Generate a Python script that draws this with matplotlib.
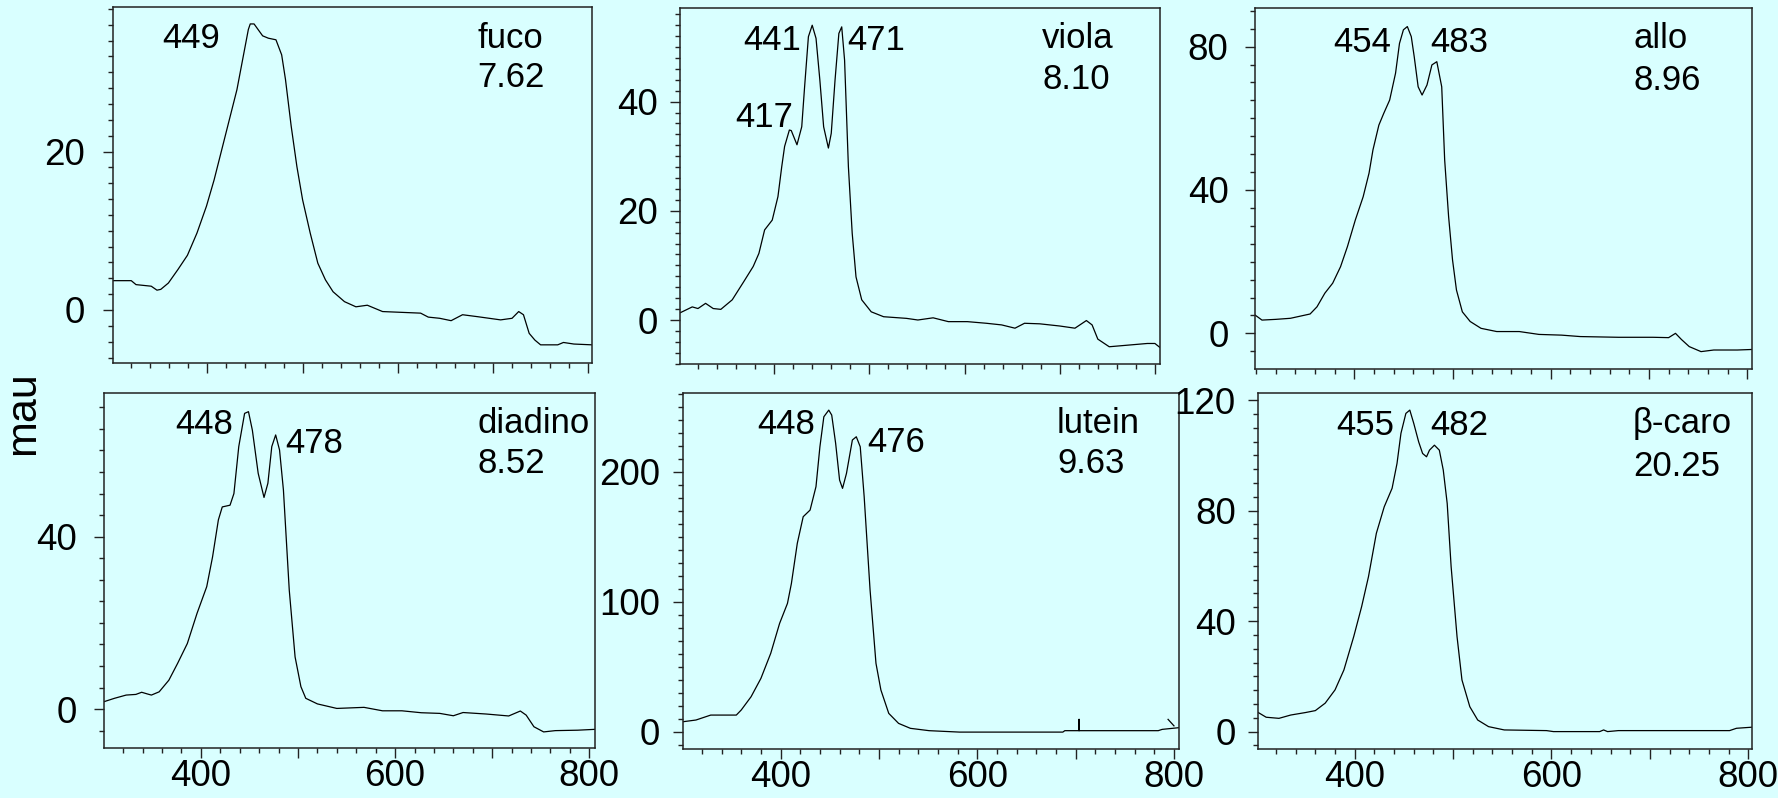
import matplotlib
matplotlib.use('Agg')
import matplotlib.pyplot as plt
from matplotlib.ticker import MultipleLocator, FixedLocator, FixedFormatter, NullFormatter

plt.rcParams['font.family'] = ['Liberation Sans', 'DejaVu Sans']

BG = '#d9ffff'

# ---------------- data (wavelength nm, absorbance mau) ----------------
wl_fuco = [300, 320, 325, 341, 347, 351, 359, 369, 379, 389, 399, 407, 415, 423, 431, 437, 443, 445, 449,
           458, 464, 472, 478, 482, 488, 494, 500, 508, 516, 524, 532, 544, 556, 568, 584, 604, 624, 632,
           644, 656, 668, 684, 696, 708, 720, 727, 732, 738, 744, 750, 768, 774, 785, 804]
ab_fuco = [3.7, 3.7, 3.2, 3.0, 2.5, 2.6, 3.4, 5.1, 6.9, 9.7, 13.1, 16.4, 20.2, 24.0, 27.8, 31.6, 35.4, 36.1, 36.1,
           34.6, 34.3, 34.1, 32.2, 29.1, 23.2, 18.1, 13.9, 9.7, 5.9, 3.8, 2.3, 1.05, 0.4, 0.6, -0.2, -0.3, -0.4, -0.9,
           -1.05, -1.35, -0.6, -0.85, -1.05, -1.25, -1.05, -0.2, -0.6, -2.95, -3.8, -4.4, -4.4, -4.1, -4.3, -4.4]

wl_viola = [301, 314, 320, 328, 336, 344, 356, 368, 378, 384, 390, 398, 404, 408, 411, 416, 418, 424, 429, 432,
            436, 440, 444, 448, 452, 457, 460, 464, 468, 471, 474, 478, 482, 486, 492, 502, 515, 539, 551, 567,
            583, 603, 623, 639, 653, 663, 679, 700, 716, 728, 734, 740, 752, 772, 792, 800, 805]
ab_viola = [1.3, 2.4, 2.1, 3.05, 2.1, 1.95, 3.7, 7.0, 9.8, 12.2, 16.5, 18.3, 22.6, 28.1, 31.8, 34.8, 34.7, 32.1, 35.4, 42.7,
            51.9, 54.0, 51.6, 44.0, 35.4, 31.5, 34.2, 44.0, 52.5, 53.7, 47.6, 28.1, 15.9, 7.9, 3.7, 1.5, 0.6, 0.3, 0.0, 0.4,
            -0.3, -0.3, -0.6, -0.9, -1.5, -0.6, -0.7, -1.1, -1.5, -0.1, -0.9, -3.5, -4.9, -4.6, -4.3, -4.3, -5.0]

wl_allo = [299, 306, 320, 335, 355, 362, 370, 378, 386, 393, 401, 409, 415, 419, 425, 430, 436, 442, 446, 450,
           454, 458, 461, 465, 469, 474, 479, 484, 489, 492, 496, 500, 504, 510, 518, 529, 545, 568, 588, 611,
           630, 669, 704, 720, 727, 733, 741, 753, 766, 790, 805]
ab_allo = [5.1, 3.7, 3.9, 4.2, 5.4, 7.4, 11.2, 14.0, 18.6, 24.2, 31.6, 38.1, 44.7, 51.2, 58.1, 61.4, 65.1, 72.6, 80.9, 84.7,
           85.6, 82.8, 77.2, 68.8, 66.5, 69.3, 74.9, 75.8, 68.8, 48.4, 32.6, 20.5, 12.1, 6.0, 3.3, 1.4, 0.5, 0.5, -0.3, -0.5,
           -0.9, -1.1, -1.1, -1.2, 0.0, -1.7, -3.7, -5.1, -4.65, -4.65, -4.5]

wl_diadino = [300, 311, 323, 333, 339, 345, 349, 357, 367, 376, 386, 396, 406, 412, 418, 422, 430, 434, 439, 445,
              449, 453, 459, 465, 469, 473, 477, 481, 485, 491, 497, 503, 508, 520, 540, 568, 587, 607, 627, 646,
              660, 670, 694, 717, 729, 735, 743, 753, 765, 788, 806]
ab_diadino = [1.7, 2.5, 3.25, 3.4, 3.9, 3.5, 3.25, 4.0, 6.7, 10.6, 15.2, 22.2, 28.4, 35.3, 43.9, 46.9, 47.3, 50.0, 60.9, 68.6,
              69.0, 64.7, 54.7, 49.1, 52.4, 60.9, 63.6, 60.1, 50.8, 27.6, 12.1, 5.2, 2.5, 1.2, 0.15, 0.4, -0.4, -0.4, -0.85, -1.0,
              -1.55, -0.8, -1.15, -1.6, -0.45, -1.4, -4.1, -5.3, -5.0, -4.9, -4.7]

wl_lutein = [301, 314, 329, 355, 360, 370, 380, 390, 399, 407, 411, 417, 423, 430, 436, 440, 444, 449, 452, 456,
             460, 463, 467, 473, 477, 481, 485, 491, 497, 502, 510, 520, 532, 551, 582, 625, 687, 689, 703.5, 703.5,
             703.5, 722, 784, 788, 805]
ab_lutein = [7.7, 9.0, 12.8, 12.8, 16.7, 26.9, 41.0, 60.3, 83.3, 98.7, 114.0, 144.9, 165.4, 170.5, 188.5, 219.2, 242.3, 247.4, 243.6, 221.8,
             193.6, 187.2, 198.7, 224.4, 226.9, 219.2, 180.8, 109.0, 52.6, 32.1, 14.1, 6.4, 2.6, 0.8, -0.3, -0.3, -0.3, 0.8, 0.8, 9.5,
             0.8, 0.8, 0.8, 1.8, 3.1]
wl_lutein_mark = [794, 800]
ab_lutein_mark = [9.5, 4.5]

wl_bcaro = [302, 310, 323, 335, 350, 360, 370, 380, 389, 399, 407, 414, 422, 430, 438, 443, 447, 452, 456, 460,
            465, 469, 473, 476, 481, 486, 490, 494, 498, 504, 509, 517, 525, 536, 552, 595, 602, 649, 653, 657,
            668, 781, 788, 804]
ab_bcaro = [6.9, 5.2, 4.8, 6.0, 6.9, 7.6, 10.3, 15.1, 22.3, 34.4, 45.2, 56.1, 71.8, 81.4, 88.1, 97.1, 108.0, 115.2, 116.4, 111.6,
            104.9, 100.7, 99.5, 101.9, 103.7, 101.9, 94.7, 82.6, 59.7, 34.4, 18.7, 9.0, 4.2, 1.8, 0.6, 0.36, 0.0, 0.0, 0.6, 0.0,
            0.36, 0.36, 1.2, 1.6]

pigments = ['fuco', 'viola', 'allo', 'diadino', 'lutein', '\u03b2-caro']
ret_times = ['7.62', '8.10', '8.96', '8.52', '9.63', '20.25']
peak_labels = [['449'], ['441', '471', '417'], ['454', '483'], ['448', '478'], ['448', '476'], ['455', '482']]
y_major = [[0, 20], [0, 20, 40], [0, 40, 80], [0, 40], [0, 100, 200], [0, 40, 80, 120]]
x_major = [400, 500, 600, 700, 800]
x_labels = ['400', '', '600', '', '800']
y_label = 'mau'

series = [(wl_fuco, ab_fuco), (wl_viola, ab_viola), (wl_allo, ab_allo),
          (wl_diadino, ab_diadino), (wl_lutein, ab_lutein), (wl_bcaro, ab_bcaro)]

# ---------------- layout ----------------
W, H = 1778, 798
boxes = [(112.5, 592, 7.3, 363.3), (679.6, 1159.5, 8.3, 364), (1255.1, 1752.1, 8.3, 369),
         (104.1, 595.1, 392.7, 748.3), (683.4, 1178.6, 392.7, 749), (1257.8, 1752.1, 392.7, 749)]
xlims = [(300.3, 804), (300.7, 804.8), (299, 805), (300.3, 806), (301.2, 804.7), (301.5, 803.9)]
ylims = [(-6.73, 38.2), (-8.06, 57.1), (-9.95, 90.7), (-9.1, 73.4), (-13.3, 260.8), (-6.3, 122.7)]
y_minor = [2, 2, 5, 5, 10, 5]
y_pads = [13.0, 8.6, 12.2, 12.5, 10.0, 8.9]
# peak label positions (center x, baseline y) in data units
peak_pos = [[(382.8, 33.06)],
            [(397.6, 49.5), (507.7, 49.5), (389.5, 35.4)],
            [(408, 78.6), (507, 78.6)],
            [(403.4, 63.8), (516.9, 59.5)],
            [(405.3, 229), (517.2, 214.9)],
            [(410.5, 107.3), (506.6, 107.3)]]
name_pos = [(683.2, 33.05, 28.08), (681.4, 49.8, 42.3), (683.8, 79.5, 67.9),
            (684.9, 64.0, 54.7), (681.1, 229.5, 198.8), (682.9, 108.0, 92.5)]

FS_TICK = 26.5
FS_TXT = 25

fig = plt.figure(figsize=(W / 100, H / 100), dpi=100, facecolor=BG)

for i in range(6):
    l, r, t, b = boxes[i]
    ax = fig.add_axes([l / W, 1 - b / H, (r - l) / W, (b - t) / H])
    ax.set_facecolor(BG)
    wl, ab = series[i]
    ax.plot(wl, ab, color='black', lw=0.9)
    if i == 4:
        ax.plot(wl_lutein_mark, ab_lutein_mark, color='black', lw=0.9)
    ax.set_xlim(*xlims[i])
    ax.set_ylim(*ylims[i])
    for s in ax.spines.values():
        s.set_color('#222222')
        s.set_linewidth(1.1)
    ax.xaxis.set_major_locator(FixedLocator(x_major))
    ax.xaxis.set_minor_locator(MultipleLocator(20))
    if i >= 3:
        ax.xaxis.set_major_formatter(FixedFormatter(x_labels))
    else:
        ax.xaxis.set_major_formatter(NullFormatter())
    ax.yaxis.set_major_locator(FixedLocator(y_major[i]))
    ax.yaxis.set_minor_locator(MultipleLocator(y_minor[i]))
    ax.tick_params(axis='both', which='both', direction='out', top=False, right=False,
                   color='#222222', width=1.0, labelsize=FS_TICK)
    ax.tick_params(axis='both', which='major', length=7)
    ax.tick_params(axis='both', which='minor', length=3.5)
    ax.tick_params(axis='x', which='major', pad=1)
    ax.tick_params(axis='y', which='major', pad=y_pads[i])
    for lab, (px, py) in zip(peak_labels[i], peak_pos[i]):
        ax.text(px, py, lab, ha='center', va='baseline', fontsize=FS_TXT)
    nx, ny1, ny2 = name_pos[i]
    ax.text(nx, ny1, pigments[i], ha='left', va='baseline', fontsize=FS_TXT)
    ax.text(nx, ny2, ret_times[i], ha='left', va='baseline', fontsize=FS_TXT)

fig.text(23 / W, 1 - 413 / H, y_label, rotation=90, ha='center', va='center', fontsize=31)

fig.savefig('out.png', dpi=100, facecolor=BG)
